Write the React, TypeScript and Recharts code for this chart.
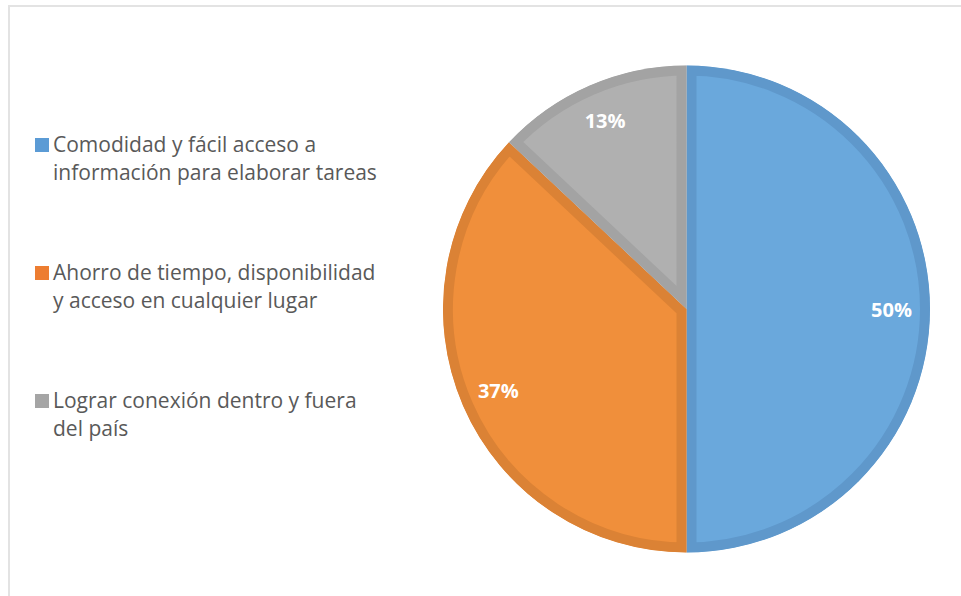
import React from "react";
import { PieChart, Pie, Cell, Legend, Sector } from "recharts";

const categories = [
  "Comodidad y fácil acceso a información para elaborar tareas",
  "Ahorro de tiempo, disponibilidad y acceso en cualquier lugar",
  "Lograr conexión dentro y fuera del país",
];
const values = [50, 37, 13];
const labels = ["50%", "37%", "13%"];

const fills = ["#6AA8DC", "#F08F3B", "#B0B0B0"];
const borders = ["#5F98CB", "#DB8235", "#A3A3A3"];
const legendColors = ["#5B9BD5", "#ED7D31", "#A5A5A5"];

const data = categories.map((name, i) => ({ name, value: values[i], label: labels[i] }));

const RADIAN = Math.PI / 180;

const renderShape = (props: any, idx: number) => {
  const { cx, cy, innerRadius, outerRadius, startAngle, endAngle } = props;
  const i = typeof props.index === "number" ? props.index : idx;
  const id = `slice-clip-${i}`;
  return (
    <g>
      <defs>
        <clipPath id={id}>
          <Sector cx={cx} cy={cy} innerRadius={innerRadius} outerRadius={outerRadius} startAngle={startAngle} endAngle={endAngle} />
        </clipPath>
      </defs>
      <g clipPath={`url(#${id})`}>
        <Sector
          cx={cx}
          cy={cy}
          innerRadius={innerRadius}
          outerRadius={outerRadius}
          startAngle={startAngle}
          endAngle={endAngle}
          fill={fills[i]}
          stroke={borders[i]}
          strokeWidth={20}
        />
      </g>
    </g>
  );
};

const renderLabel = (props: any) => {
  const { cx, cy, midAngle, index } = props;
  const r = 205;
  const x = cx + r * Math.cos(-midAngle * RADIAN);
  const y = cy + r * Math.sin(-midAngle * RADIAN);
  return (
    <text
      x={x}
      y={y}
      fill="#FFFFFF"
      textAnchor="middle"
      dominantBaseline="central"
      fontFamily="'Open Sans', sans-serif"
      fontWeight={700}
      fontSize={20}
    >
      {data[index].label}
    </text>
  );
};

const renderLegend = () => (
  <div style={{ position: "relative" }}>
    {data.map((d, i) => (
      <div
        key={d.name}
        style={{
          position: "absolute",
          left: 0,
          top: i * 128,
          width: 360,
          display: "flex",
          alignItems: "flex-start",
        }}
      >
        <div
          style={{
            width: 14,
            height: 14,
            background: legendColors[i],
            marginTop: 8,
            marginRight: 4,
            flex: "0 0 auto",
          }}
        />
        <div
          style={{
            width: 336,
            fontFamily: "'Open Sans', sans-serif",
            fontSize: 21,
            lineHeight: "28px",
            color: "#595959",
          }}
        >
          {d.name}
        </div>
      </div>
    ))}
  </div>
);

export default function App() {
  return (
    <div style={{ position: "absolute", left: 0, top: 0, width: 961, height: 596, background: "#fff" }}>
      <div
        style={{
          position: "absolute",
          left: 8,
          top: 5,
          width: 953,
          height: 591,
          borderTop: "2px solid #E3E3E3",
          borderLeft: "2px solid #E3E3E3",
          boxSizing: "border-box",
        }}
      />
      <div style={{ position: "absolute", left: 0, top: 0 }}>
        <PieChart width={961} height={596} margin={{ top: 0, right: 0, bottom: 0, left: 0 }}>
          <Pie
            data={data}
            dataKey="value"
            nameKey="name"
            cx={686.5}
            cy={309}
            outerRadius={243.5}
            innerRadius={0}
            startAngle={90}
            endAngle={-270}
            stroke="none"
            shape={renderShape}
            label={renderLabel}
            labelLine={false}
            isAnimationActive={false}
          >
            {data.map((d, i) => (
              <Cell key={d.name} fill={fills[i]} />
            ))}
          </Pie>
          <Legend
            content={renderLegend}
            wrapperStyle={{ position: "absolute", left: 35, top: 130, width: 380, height: 330 }}
          />
        </PieChart>
      </div>
    </div>
  );
}
